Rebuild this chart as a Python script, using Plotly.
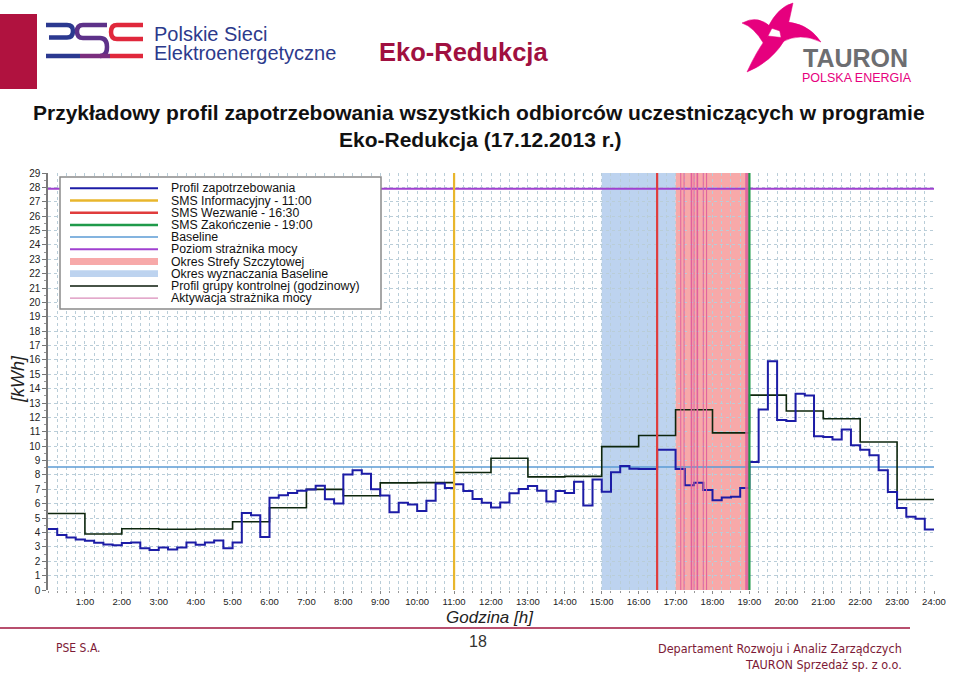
import numpy as np
import plotly.graph_objects as go

# ---------------- data ----------------
# 15-minute demand profile [kWh], 0:00 .. 23:45
profile_kwh = [4.25, 3.82, 3.65, 3.52,
               3.42, 3.28, 3.17, 3.12,
               3.26, 3.31, 2.91, 2.78,
               2.96, 2.82, 2.96, 3.30,
               3.15, 3.31, 3.44, 2.91,
               3.31, 5.36, 5.20, 3.68,
               6.41, 6.59, 6.75, 6.90,
               6.99, 7.25, 6.31, 6.01,
               8.03, 8.33, 8.08, 7.01,
               6.57, 5.41, 6.07, 5.94,
               5.50, 6.20, 7.40, 7.09,
               7.35, 6.89, 6.33, 6.07,
               5.74, 6.09, 6.72, 7.03,
               7.23, 6.90, 6.15, 6.89,
               6.74, 7.52, 5.87, 7.68,
               6.83, 8.19, 8.62, 8.43,
               8.41, 8.41, 9.76, 9.76,
               8.41, 7.28, 7.46, 6.95,
               6.24, 6.43, 6.49, 7.10,
               8.91, 12.55, 15.91, 11.83,
               11.75, 13.64, 13.53, 10.69,
               10.64, 10.46, 11.17, 10.06,
               9.76, 9.37, 8.33, 6.82,
               5.71, 5.09, 4.95, 4.21]
# hourly control-group profile [kWh], 0:00 .. 23:00
control_kwh = [5.32, 3.89, 4.26, 4.22, 4.24, 4.75, 5.72, 7.00, 6.55, 7.45, 7.47, 8.17,
               9.16, 7.87, 7.90, 9.97, 10.74, 12.54, 10.93, 13.55, 12.45, 11.91, 10.29, 6.29]
baseline_kwh = 8.55
guard_level_kwh = 27.9
sms_info_h = 11.0
sms_call_h = 16.5
sms_end_h = 19.0
baseline_period_h = [15.0, 17.0]
peak_period_h = [17.0, 19.0]
guard_activation_h = [17.14, 17.23, 17.43, 17.50, 17.59, 17.75, 17.84, 18.91, 18.96]
hour_ticks = list(range(1, 25))
hour_labels = [f"{h}:00" for h in hour_ticks]
kwh_ticks = list(range(0, 30))

legend_labels = ["Profil zapotrzebowania", "SMS Informacyjny - 11:00", "SMS Wezwanie - 16:30",
                 "SMS Zakończenie - 19:00", "Baseline", "Poziom strażnika mocy",
                 "Okres Strefy Szczytowej", "Okres wyznaczania Baseline",
                 "Profil grupy kontrolnej (godzinowy)", "Aktywacja strażnika mocy"]

# ---------------- styles / geometry ----------------
W, H = 959, 684
PL, PR, PT, PB = 48, 934, 173, 590          # plot area in pixels
FONT = "Liberation Sans, Arial, sans-serif"
C_PROFILE = "#1c1ca6"
C_CONTROL = "#0d260d"
C_INFO = "#e8b62c"
C_CALL = "#e03c3c"
C_END = "#1f9a4a"
C_BASE = "#5b9bd5"
C_GUARD = "#a040d0"
C_PEAK = "#f7a9a9"
C_BPER = "#bdd3ef"
C_ACT = "#e0609e"
GRID = "#b9cdd8"


def fx(x):
    return x / W


def fy(y):
    return 1 - y / H


def P(x, y):
    return f"{fx(x):.5f},{fy(y):.5f}"


fig = go.Figure()

# step series
q_x = np.append(np.arange(len(profile_kwh)) * 0.25, 24.0)
q_y = np.append(profile_kwh, profile_kwh[-1])
h_x = np.append(np.arange(len(control_kwh)) * 1.0, 24.0)
h_y = np.append(control_kwh, control_kwh[-1])

fig.add_trace(go.Scatter(x=[0, 24], y=[guard_level_kwh] * 2, mode="lines",
                         line=dict(color=C_GUARD, width=2), name=legend_labels[5]))
fig.add_trace(go.Scatter(x=[0, 24], y=[baseline_kwh] * 2, mode="lines",
                         line=dict(color=C_BASE, width=1.5), name=legend_labels[4]))
fig.add_trace(go.Scatter(x=h_x, y=h_y, mode="lines", line_shape="hv",
                         line=dict(color=C_CONTROL, width=1.6), name=legend_labels[8]))
fig.add_trace(go.Scatter(x=q_x, y=q_y, mode="lines", line_shape="hv",
                         line=dict(color=C_PROFILE, width=2), name=legend_labels[0]))

# bands
fig.add_vrect(x0=baseline_period_h[0], x1=baseline_period_h[1], fillcolor=C_BPER,
              line_width=0, layer="below")
fig.add_vrect(x0=peak_period_h[0], x1=peak_period_h[1], fillcolor=C_PEAK,
              line_width=0, layer="below")

shapes = []
for i, xa in enumerate(guard_activation_h):
    wdt = 1.6 if i in (2, 4, 7, 8) else 1.0
    shapes.append(dict(type="line", xref="x", yref="y", x0=xa, x1=xa, y0=0, y1=29,
                       line=dict(color=C_ACT, width=wdt), layer="above"))
for xv, col in [(sms_info_h, C_INFO), (sms_call_h, C_CALL), (sms_end_h, C_END)]:
    shapes.append(dict(type="line", xref="x", yref="y", x0=xv, x1=xv, y0=0, y1=29,
                       line=dict(color=col, width=2.2), layer="above"))

# ---- legend box (drawn) ----
shapes.append(dict(type="rect", xref="paper", yref="paper", x0=fx(60), x1=fx(381),
                   y0=fy(309), y1=fy(177), fillcolor="white",
                   line=dict(color="#8a8a8a", width=1.5), layer="above"))
leg_y = [188.3 + 12.2 * i for i in range(10)]
leg_style = [("line", C_PROFILE, 2), ("line", C_INFO, 2.5), ("line", C_CALL, 2.5),
             ("line", C_END, 2.5), ("line", C_BASE, 1.5), ("line", C_GUARD, 2),
             ("rect", C_PEAK, 0), ("rect", C_BPER, 0), ("line", "#0a1a0a", 1.5),
             ("line", "#d070a8", 1)]
annotations = []
for yy, (kind, col, wdt), lab in zip(leg_y, leg_style, legend_labels):
    if kind == "line":
        shapes.append(dict(type="line", xref="paper", yref="paper", x0=fx(70), x1=fx(158),
                           y0=fy(yy), y1=fy(yy), line=dict(color=col, width=wdt), layer="above"))
    else:
        shapes.append(dict(type="rect", xref="paper", yref="paper", x0=fx(70), x1=fx(158),
                           y0=fy(yy + 3.4), y1=fy(yy - 3.4), fillcolor=col, line_width=0,
                           layer="above"))
    annotations.append(dict(xref="paper", yref="paper", x=fx(170), y=fy(yy), text=lab,
                            showarrow=False, xanchor="left", yanchor="middle", borderpad=0,
                            font=dict(family=FONT, size=12.3, color="#111")))

# ---- header decorations ----
shapes.append(dict(type="rect", xref="paper", yref="paper", x0=fx(0), x1=fx(37),
                   y0=fy(89), y1=fy(14), fillcolor="#b0123f", line_width=0))
# PSE logo strokes
pse_paths = [
    (f"M{P(46,25)} L{P(67,25)} Q{P(73,25)} {P(73,31)} Q{P(73,37.5)} {P(67,37.5)} L{P(49,37.5)}", "#2b3990"),
    (f"M{P(107,25)} L{P(83,25)} Q{P(77,25)} {P(77,31.5)} Q{P(77,38)} {P(83,38)} L{P(100,38)} "
     f"Q{P(107,38)} {P(107,47)} Q{P(107,56)} {P(100,56)}", "#5d3189"),
    (f"M{P(143,25)} L{P(117,25)} Q{P(111,25)} {P(111,32)} Q{P(111,39)} {P(117,39)} L{P(143,39)}", "#e0283c"),
    (f"M{P(46,56)} L{P(80,56)}", "#2b3990"),
    (f"M{P(80,56)} L{P(110,56)}", "#7a2e7e"),
    (f"M{P(110,56)} L{P(143,56)}", "#e0283c"),
]
for pth, col in pse_paths:
    shapes.append(dict(type="path", xref="paper", yref="paper", path=pth,
                       line=dict(color=col, width=4.5)))
# TAURON pinwheel
blades = [
    f"M{P(772,28)} Q{P(758,14)} {P(742,23)} Q{P(754,27)} {P(764,44)} Z",
    f"M{P(768,27)} Q{P(778,7)} {P(793,3)} Q{P(790,18)} {P(786,33)} Z",
    f"M{P(778,22)} Q{P(806,20)} {P(821,42)} Q{P(800,32)} {P(782,42)} Z",
    f"M{P(786,38)} Q{P(772,62)} {P(747,72)} Q{P(757,50)} {P(768,36)} Z",
]
for pth in blades:
    shapes.append(dict(type="path", xref="paper", yref="paper", path=pth,
                       fillcolor="#e6007e", line=dict(color="#e6007e", width=0.5)))
# footer line
shapes.append(dict(type="line", xref="paper", yref="paper", x0=fx(0), x1=fx(910),
                   y0=fy(628), y1=fy(628), line=dict(color="#a0153e", width=1.5)))


def txt(x, y, s, size, color="#111", anchor="center", bold=False, italic=False,
        family=FONT, angle=0):
    t = s
    if bold:
        t = f"<b>{t}</b>"
    if italic:
        t = f"<i>{t}</i>"
    annotations.append(dict(xref="paper", yref="paper", x=fx(x), y=fy(y), text=t,
                            showarrow=False, xanchor=anchor, yanchor="middle", borderpad=0,
                            textangle=angle, font=dict(family=family, size=size, color=color)))


txt(153, 34, "Polskie Sieci", 20, "#2c3a8c", anchor="left")
txt(153, 53, "Elektroenergetyczne", 20, "#2c3a8c", anchor="left")
txt(463, 52, "Eko-Redukcja", 25.5, "#a01040", bold=True)
txt(855, 58, "TAURON", 25, "#6d6e71", bold=True)
txt(857, 78, "POLSKA ENERGIA", 12.5, "#e6007e")
txt(479, 112, "Przykładowy profil zapotrzebowania wszystkich odbiorców uczestniczących w programie",
    21, "#111", bold=True)
txt(480, 139, "Eko-Redukcja (17.12.2013 r.)", 21, "#111", bold=True)
txt(18, 379, "[kWh]", 18, "#222", italic=True, angle=-90)
txt(490, 617, "Godzina [h]", 17, "#222", italic=True)
NARROW = "Liberation Sans Narrow, DejaVu Sans Condensed, sans-serif"
txt(55, 648, "PSE S.A.", 12, "#7d1a36", anchor="left", family=NARROW)
txt(478, 641, "18", 16, "#333")
txt(903, 648, "Departament Rozwoju i Analiz Zarządczych", 12.5, "#7d1a36", anchor="right", family=NARROW)
txt(903, 664, "TAURON Sprzedaż sp. z o.o.", 12.5, "#7d1a36", anchor="right", family=NARROW)

fig.update_layout(
    width=W, height=H, autosize=False,
    margin=dict(l=0, r=0, t=0, b=0),
    paper_bgcolor="white", plot_bgcolor="white",
    showlegend=False,
    font=dict(family=FONT, size=10, color="#222"),
    shapes=list(fig.layout.shapes) + shapes,
    annotations=annotations,
    xaxis=dict(range=[0, 24], domain=[fx(PL), fx(PR)], tickmode="array",
               tickvals=hour_ticks, ticktext=hour_labels, showgrid=True,
               gridcolor=GRID, griddash="dot", gridwidth=1, zeroline=False,
               showline=False, ticks="outside", ticklen=3, tickcolor="#888",
               ticklabelstandoff=0, automargin=False,
               tickfont=dict(size=9.5, color="#222"),
               minor=dict(tickmode="linear", tick0=0, dtick=0.25, showgrid=True,
                          gridcolor=GRID, griddash="dot", gridwidth=1,
                          ticks="outside", ticklen=2, tickcolor="#999")),
    yaxis=dict(range=[0, 29], domain=[fy(PB), fy(PT)], tickmode="array",
               tickvals=kwh_ticks, showgrid=True, gridcolor=GRID, griddash="dot",
               gridwidth=1, zeroline=False, showline=True, linecolor="#7a7a7a",
               linewidth=1.5, ticks="outside", ticklen=4, tickcolor="#777",
               automargin=False,
               tickfont=dict(size=10, color="#222"),
               minor=dict(tickmode="linear", tick0=0, dtick=0.5, ticks="outside",
                          ticklen=2, tickcolor="#999", showgrid=False)),
)

fig.write_html("out.html", config={"displayModeBar": False},
               post_script="document.body.style.margin='0';document.body.style.overflow='hidden';")
